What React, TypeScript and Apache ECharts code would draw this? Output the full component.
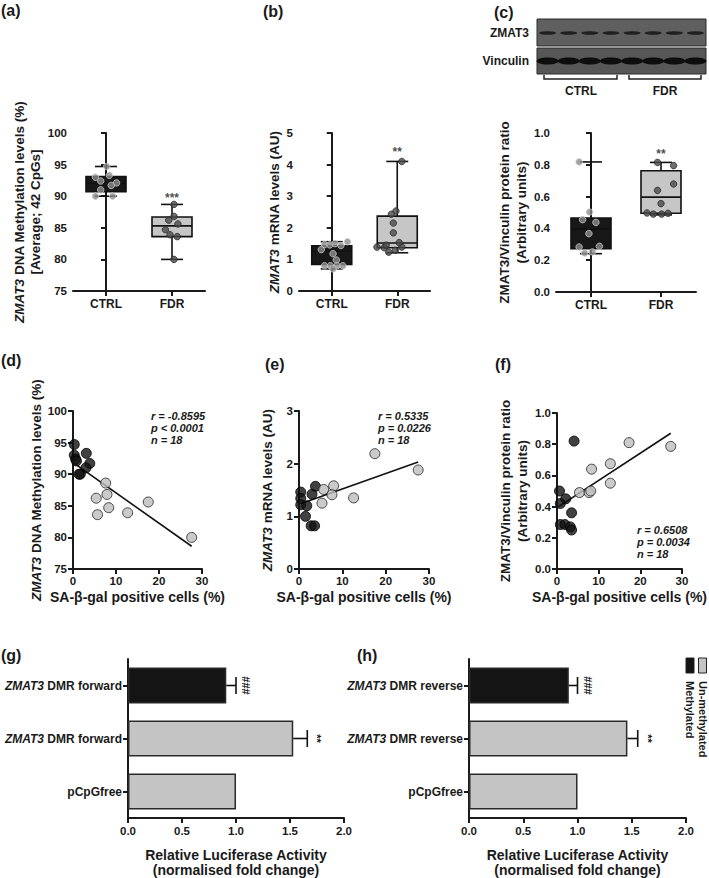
import React, { useEffect, useRef } from "react";
import * as echarts from "echarts";

const FONT = "'Liberation Sans', Arial, Helvetica, sans-serif";
const TXT = "#1a1a1a";

// ---------- DATA ----------
const groups = ["CTRL", "FDR"];

// (a) ZMAT3 DNA methylation, box stats [min, Q1, median, Q3, max]
const dnaMethBox = [
  [90.0, 90.7, 92.0, 93.1, 94.7],
  [80.0, 83.6, 85.3, 86.7, 88.7],
];
// dots: [jitter, value]
const dnaMethCtrlDots = [[0.01, 94.7], [0.05, 93.3], [-0.16, 93.0], [-0.08, 92.4], [0.16, 92.1], [0.08, 91.7], [-0.08, 91.0], [-0.16, 90.0], [0.1, 90.0]];
const dnaMethFdrDots = [[0.03, 88.7], [0.03, 86.8], [-0.05, 86.2], [0.09, 85.6], [-0.1, 84.7], [-0.03, 83.9], [0.08, 83.6], [0.03, 80.0]];
const dnaMethSig = [[1, 89.75, "***"]];

// (b) ZMAT3 mRNA
const mrnaBox = [
  [0.70, 0.84, 1.26, 1.43, 1.56],
  [1.21, 1.37, 1.52, 2.37, 4.10],
];
const mrnaCtrlDots = [[-0.16, 1.31], [-0.11, 1.47], [-0.03, 1.46], [0.05, 1.5], [0.14, 1.44], [0.24, 1.56], [0.02, 1.18], [0.07, 0.98], [-0.11, 0.8], [-0.02, 0.8], [0.08, 0.8], [0.17, 0.8], [0.02, 0.7]];
const mrnaFdrDots = [[0.07, 4.1], [-0.02, 2.53], [-0.09, 2.43], [-0.06, 2.15], [-0.06, 1.84], [-0.31, 1.39], [-0.2, 1.37], [-0.13, 1.23], [-0.03, 1.29], [0.07, 1.39], [0.03, 1.53], [-0.17, 1.45]];
const mrnaSig = [[1, 4.4, "**"]];

// (c) ZMAT3/Vinculin protein ratio
const protBox = [
  [0.241, 0.272, 0.396, 0.465, 0.818],
  [0.485, 0.495, 0.597, 0.763, 0.815],
];
const protCtrlDots = [[-0.17, 0.818], [-0.02, 0.503], [-0.12, 0.455], [0.07, 0.438], [-0.03, 0.367], [-0.17, 0.283], [0.12, 0.287], [-0.09, 0.245], [0.02, 0.252]];
const protFdrDots = [[-0.05, 0.815], [0.18, 0.795], [0.18, 0.679], [-0.05, 0.639], [0.0, 0.556], [-0.2, 0.497], [-0.11, 0.49], [0.01, 0.49], [0.1, 0.495]];
const protSig = [[1, 0.866, "**"]];

// (d) SA-β-gal vs DNA methylation
const senMethCtrl = [[0.3, 94.7], [3.1, 93.3], [0.3, 93.0], [0.6, 92.4], [0.8, 92.1], [3.9, 91.7], [3.0, 91.0], [1.7, 90.0], [1.4, 90.0]];
const senMethFdr = [[7.6, 88.6], [7.9, 86.8], [5.4, 86.2], [17.5, 85.6], [8.3, 84.7], [12.7, 83.9], [5.7, 83.6], [27.6, 80.0]];
const senMethFit = [[0.3, 91.7], [27.6, 78.6]];
const senMethStats = ["r = -0.8595", "p < 0.0001", "n = 18"];

// (e) SA-β-gal vs mRNA
const senMrnaCtrl = [[0.4, 1.46], [0.4, 1.34], [0.4, 1.22], [1.5, 1.0], [1.8, 1.2], [3.0, 1.42], [3.8, 1.57], [2.8, 0.82], [3.6, 0.82]];
const senMrnaFdr = [[5.7, 1.51], [5.3, 1.25], [8.0, 1.58], [7.6, 1.41], [12.6, 1.35], [17.5, 2.19], [27.5, 1.88]];
const senMrnaFit = [[0.4, 1.24], [27.5, 2.03]];
const senMrnaStats = ["r = 0.5335", "p = 0.0226", "n = 18"];

// (f) SA-β-gal vs protein
const senProtCtrl = [[0.6, 0.5], [0.8, 0.42], [2.1, 0.45], [3.5, 0.36], [4.1, 0.82], [0.8, 0.285], [1.9, 0.285], [3.2, 0.27], [3.5, 0.25]];
const senProtFdr = [[5.4, 0.49], [7.7, 0.49], [8.1, 0.5], [8.3, 0.64], [12.8, 0.675], [12.8, 0.55], [17.3, 0.81], [27.3, 0.786]];
const senProtFit = [[0.4, 0.4], [27.3, 0.87]];
const senProtStats = ["r = 0.6508", "p = 0.0034", "n = 18"];

// (g) luciferase, forward
const lucFwdLabels = ["ZMAT3 DMR forward", "ZMAT3 DMR forward", "pCpGfree"];
const lucFwdMean = [0.91, 1.53, 1.0];
const lucFwdErr = [0.09, 0.13, 0];
const lucFwdSig = ["###", "**", ""];

// (h) luciferase, reverse
const lucRevLabels = ["ZMAT3 DMR reverse", "ZMAT3 DMR reverse", "pCpGfree"];
const lucRevMean = [0.92, 1.46, 1.0];
const lucRevErr = [0.08, 0.095, 0];
const lucRevSig = ["###", "**", ""];

const legendLabels = ["Methylated", "Un-methylated"];

// ---------- STYLE HELPERS ----------
const axisLine = { show: true, lineStyle: { color: TXT, width: 2 } };
const axisTick = { show: true, inside: false, length: 5, lineStyle: { color: TXT, width: 2 } };
const tickLabel = (extra: any = {}) => ({ color: TXT, fontSize: 11.5, fontWeight: "bold", fontFamily: FONT, margin: 6, ...extra });
const italicRich = (size: number, lh?: number) => ({
  i: { fontStyle: "italic", fontWeight: "bold", fontSize: size, fontFamily: FONT, color: TXT, lineHeight: lh },
});
const nameStyle = (size: number, lh?: number) => ({
  color: TXT, fontSize: size, fontWeight: "bold", fontFamily: FONT, lineHeight: lh, rich: italicRich(size, lh),
});
const ital = (s: string) => s.replace("ZMAT3", "{i|ZMAT3}");

const renderBox = (fills: string[]) => (params: any, api: any) => {
  const i = api.value(0);
  const [pMin, pQ1, pMed, pQ3, pMax] = [1, 2, 3, 4, 5].map((k) => api.coord([i, api.value(k)]));
  const x = pMin[0];
  const bw = 40;
  const cw = 22;
  const st = { stroke: "#111", lineWidth: 1.6 };
  return {
    type: "group",
    children: [
      { type: "line", shape: { x1: x, y1: pMax[1], x2: x, y2: pMin[1] }, style: st },
      { type: "line", shape: { x1: x - cw / 2, y1: pMax[1], x2: x + cw / 2, y2: pMax[1] }, style: st },
      { type: "line", shape: { x1: x - cw / 2, y1: pMin[1], x2: x + cw / 2, y2: pMin[1] }, style: st },
      { type: "rect", shape: { x: x - bw / 2, y: pQ3[1], width: bw, height: pQ1[1] - pQ3[1] }, style: { fill: fills[i], stroke: "#111", lineWidth: 1.6 } },
      { type: "line", shape: { x1: x - bw / 2, y1: pMed[1], x2: x + bw / 2, y2: pMed[1] }, style: st },
    ],
  };
};

const renderErr = (sigs: string[]) => (params: any, api: any) => {
  const m = api.value(0);
  const i = api.value(1);
  const e = api.value(2);
  const p0 = api.coord([m, i]);
  const p1 = api.coord([m + e, i]);
  const st = { stroke: "#111", lineWidth: 1.6 };
  const children: any[] = [];
  if (e > 0) {
    children.push({ type: "line", shape: { x1: p0[0], y1: p0[1], x2: p1[0], y2: p1[1] }, style: st });
    children.push({ type: "line", shape: { x1: p1[0], y1: p1[1] - 8.5, x2: p1[0], y2: p1[1] + 8.5 }, style: st });
  }
  if (sigs[i]) {
    children.push({
      type: "text", x: p1[0] + 10, y: p1[1], rotation: -Math.PI / 2,
      style: { text: sigs[i], align: "center", verticalAlign: "middle", fontSize: 11, fontWeight: "bold", fontFamily: FONT, fill: TXT },
    });
  }
  return { type: "group", children };
};

function buildOption(): any {
  const boxFills = ["#181818", "#c6c6c6"];
  const grids = [
    { left: 73, top: 133, width: 132, height: 158 },
    { left: 299, top: 133, width: 131, height: 158 },
    { left: 556, top: 133, width: 140, height: 159 },
    { left: 73, top: 411, width: 129, height: 158 },
    { left: 299, top: 411, width: 130, height: 158 },
    { left: 557, top: 413, width: 130, height: 156 },
    { left: 128, top: 659, width: 216, height: 159 },
    { left: 469, top: 659, width: 217, height: 159 },
  ];

  const catX = (gridIndex: number) => ({
    type: "category", gridIndex, data: groups, boundaryGap: true, axisLine,
    axisTick: { ...axisTick, alignWithLabel: true },
    axisLabel: tickLabel({ fontSize: 12, margin: 7 }), splitLine: { show: false },
  });
  const jitX = (gridIndex: number) => ({ type: "value", gridIndex, min: -0.5, max: 1.5, show: false, splitLine: { show: false } });
  const senX = (gridIndex: number) => ({
    type: "value", gridIndex, min: 0, max: 30, interval: 10, axisLine, axisTick,
    axisLabel: tickLabel({ margin: 6 }), splitLine: { show: false },
    name: "SA-β-gal positive cells (%)", nameLocation: "middle", nameGap: 21, nameTextStyle: nameStyle(14),
  });
  const lucX = (gridIndex: number) => ({
    type: "value", gridIndex, min: 0, max: 2, interval: 0.5, axisLine, axisTick,
    axisLabel: tickLabel({ formatter: (v: number) => v.toFixed(1), margin: 7 }), splitLine: { show: false },
    name: "Relative Luciferase Activity\n(normalised fold change)", nameLocation: "middle", nameGap: 29, nameTextStyle: nameStyle(14, 15),
  });
  const valY = (gridIndex: number, min: number, max: number, interval: number, name: string, nameGap: number, dec: number, lh?: number) => ({
    type: "value", gridIndex, min, max, interval, axisLine, axisTick,
    axisLabel: tickLabel({ formatter: (v: number) => v.toFixed(dec) }), splitLine: { show: false },
    name, nameLocation: "middle", nameGap, nameRotate: 90, nameTextStyle: nameStyle(13.5, lh),
  });
  const lucY = (gridIndex: number, labels: string[]) => ({
    type: "category", gridIndex, inverse: true, data: labels.map((_, i) => String(i)),
    axisLine, axisTick: { ...axisTick, alignWithLabel: true },
    axisLabel: { ...tickLabel({ fontSize: 12, margin: 6 }), formatter: (v: string) => ital(labels[Number(v)]), rich: italicRich(12) },
    splitLine: { show: false },
  });

  const xAxis = [catX(0), jitX(0), catX(1), jitX(1), catX(2), jitX(2), senX(3), senX(4), senX(5), lucX(6), lucX(7)];
  const methName = "{i|ZMAT3} DNA Methylation levels (%)";
  const mrnaName = "{i|ZMAT3} mRNA levels (AU)";
  const protName = "ZMAT3/Vinculin protein ratio\n(Arbitrary units)";
  const yAxis = [
    valY(0, 75, 100, 5, methName + "\n[Average; 42 CpGs]", 23, 0, 16),
    valY(1, 0, 5, 1, mrnaName, 18, 0),
    valY(2, 0, 1, 0.2, protName, 25, 1, 17),
    valY(3, 75, 100, 5, methName, 23, 0),
    valY(4, 0, 3, 1, mrnaName, 25, 0),
    valY(5, 0, 1, 0.2, protName, 25, 1, 17),
    lucY(6, lucFwdLabels),
    lucY(7, lucRevLabels),
  ];

  const series: any[] = [];
  const boxPanel = (catIdx: number, jitIdx: number, yIdx: number, box: number[][], ctrl: number[][], fdr: number[][], sig: any[], ctrlDot: any, fdrDot: any) => {
    series.push({
      type: "custom", xAxisIndex: catIdx, yAxisIndex: yIdx, renderItem: renderBox(boxFills),
      data: box.map((b, i) => [i, ...b]), encode: { x: 0, y: [1, 2, 3, 4, 5] }, z: 2,
    });
    series.push({ type: "scatter", xAxisIndex: jitIdx, yAxisIndex: yIdx, data: ctrl.map(([j, v]) => [0 + j, v]), symbolSize: 6.5, itemStyle: ctrlDot, z: 3 });
    series.push({ type: "scatter", xAxisIndex: jitIdx, yAxisIndex: yIdx, data: fdr.map(([j, v]) => [1 + j, v]), symbolSize: 6.5, itemStyle: fdrDot, z: 3 });
    series.push({
      type: "scatter", xAxisIndex: catIdx, yAxisIndex: yIdx, data: sig.map((s) => [s[0], s[1]]), symbolSize: 1,
      itemStyle: { color: "rgba(0,0,0,0)" },
      label: { show: true, position: "inside", formatter: (p: any) => sig[p.dataIndex][2], fontSize: 12, fontWeight: "bold", fontFamily: FONT, color: TXT },
    });
  };
  const greyDot = { color: "#8c8c8c", borderColor: "#c9c9c9", borderWidth: 1 };
  const darkDot = { color: "#4a4a4a", borderColor: "#2c2c2c", borderWidth: 1 };
  boxPanel(0, 1, 0, dnaMethBox, dnaMethCtrlDots, dnaMethFdrDots, dnaMethSig, greyDot, darkDot);
  boxPanel(2, 3, 1, mrnaBox, mrnaCtrlDots, mrnaFdrDots, mrnaSig, greyDot, darkDot);
  boxPanel(4, 5, 2, protBox, protCtrlDots, protFdrDots, protSig, greyDot, darkDot);

  const senPanel = (xIdx: number, yIdx: number, ctrl: number[][], fdr: number[][], fit: number[][]) => {
    series.push({ type: "line", xAxisIndex: xIdx, yAxisIndex: yIdx, data: fit, symbol: "none", lineStyle: { color: "#111", width: 1.6 }, z: 2 });
    series.push({ type: "scatter", xAxisIndex: xIdx, yAxisIndex: yIdx, data: ctrl, symbolSize: 10, itemStyle: { color: "#111", borderColor: "#000", borderWidth: 1 }, z: 3 });
    series.push({ type: "scatter", xAxisIndex: xIdx, yAxisIndex: yIdx, data: fdr, symbolSize: 10, itemStyle: { color: "#bdbdbd", borderColor: "#222", borderWidth: 1 }, z: 3 });
  };
  senPanel(6, 3, senMethCtrl, senMethFdr, senMethFit);
  senPanel(7, 4, senMrnaCtrl, senMrnaFdr, senMrnaFit);
  senPanel(8, 5, senProtCtrl, senProtFdr, senProtFit);

  const barFills = ["#141414", "#c4c4c4", "#c4c4c4"];
  const lucPanel = (xIdx: number, yIdx: number, mean: number[], err: number[], sig: string[]) => {
    series.push({
      type: "bar", xAxisIndex: xIdx, yAxisIndex: yIdx, barWidth: 36,
      data: mean.map((v, i) => ({ value: v, itemStyle: { color: barFills[i], borderColor: "#2a2a2a", borderWidth: 1.5 } })),
      z: 2,
    });
    series.push({
      type: "custom", xAxisIndex: xIdx, yAxisIndex: yIdx, renderItem: renderErr(sig),
      data: mean.map((v, i) => [v, i, err[i]]), encode: { x: 0, y: 1 }, z: 3,
    });
  };
  lucPanel(9, 6, lucFwdMean, lucFwdErr, lucFwdSig);
  lucPanel(10, 7, lucRevMean, lucRevErr, lucRevSig);

  // ---------- GRAPHIC ----------
  const letter = (t: string, x: number, y: number) => ({
    type: "text", x, y, style: { text: t, fontSize: 16, fontWeight: "bold", fontFamily: FONT, fill: TXT, verticalAlign: "top" },
  });
  const stats = (lines: string[], x: number, y: number) => ({
    type: "text", x, y, style: { text: lines.join("\n"), fontSize: 11, fontWeight: "bold", fontStyle: "italic", fontFamily: FONT, fill: TXT, lineHeight: 12, verticalAlign: "top" },
  });
  const blotX = 537, blotW = 169;
  const lanes = Array.from({ length: 8 }, (_, k) => blotX + (blotW * (k + 0.5)) / 8);
  const blot: any[] = [
    { type: "rect", shape: { x: blotX, y: 19, width: blotW, height: 27 }, style: { fill: "#5f5f5f", stroke: "#2a2a2a", lineWidth: 1 } },
    { type: "rect", shape: { x: blotX, y: 48, width: blotW, height: 26 }, style: { fill: "#575757", stroke: "#2a2a2a", lineWidth: 1 } },
    ...lanes.map((cx) => ({ type: "ellipse", shape: { cx, cy: 33, rx: 8.5, ry: 1.8 }, style: { fill: "#202020" } })),
    ...lanes.map((cx) => ({ type: "ellipse", shape: { cx, cy: 61, rx: 11, ry: 3.6 }, style: { fill: "#0e0e0e" } })),
    { type: "text", x: 529, y: 33, style: { text: "ZMAT3", align: "right", verticalAlign: "middle", fontSize: 12, fontWeight: "bold", fontFamily: FONT, fill: TXT } },
    { type: "text", x: 529, y: 61, style: { text: "Vinculin", align: "right", verticalAlign: "middle", fontSize: 12, fontWeight: "bold", fontFamily: FONT, fill: TXT } },
    { type: "polyline", shape: { points: [[544, 75], [544, 79], [617, 79], [617, 75]] }, style: { stroke: "#222", lineWidth: 1.5, fill: "none" } },
    { type: "polyline", shape: { points: [[629, 75], [629, 79], [701, 79], [701, 75]] }, style: { stroke: "#222", lineWidth: 1.5, fill: "none" } },
    { type: "text", x: 581, y: 91, style: { text: groups[0], align: "center", verticalAlign: "middle", fontSize: 12, fontWeight: "bold", fontFamily: FONT, fill: TXT } },
    { type: "text", x: 665, y: 91, style: { text: groups[1], align: "center", verticalAlign: "middle", fontSize: 12, fontWeight: "bold", fontFamily: FONT, fill: TXT } },
  ];
  const legend: any[] = [
    { type: "rect", shape: { x: 686, y: 658, width: 8, height: 15 }, style: { fill: barFills[0], stroke: "#222", lineWidth: 1 } },
    { type: "rect", shape: { x: 698.5, y: 658, width: 8, height: 15 }, style: { fill: barFills[1], stroke: "#222", lineWidth: 1 } },
    { type: "text", x: 690, y: 681, rotation: -Math.PI / 2, style: { text: legendLabels[0], align: "left", verticalAlign: "middle", fontSize: 11, fontWeight: "bold", fontFamily: FONT, fill: TXT } },
    { type: "text", x: 702.5, y: 681, rotation: -Math.PI / 2, style: { text: legendLabels[1], align: "left", verticalAlign: "middle", fontSize: 11, fontWeight: "bold", fontFamily: FONT, fill: TXT } },
  ];

  const graphic = [
    letter("(a)", 1, 2), letter("(b)", 263, 3), letter("(c)", 494, 4),
    letter("(d)", 1, 352), letter("(e)", 265, 356), letter("(f)", 495, 356),
    letter("(g)", 1, 647), letter("(h)", 357, 647),
    stats(senMethStats, 151, 410), stats(senMrnaStats, 378, 410), stats(senProtStats, 637, 524),
    ...blot, ...legend,
  ];

  return { animation: false, backgroundColor: "#fff", grid: grids, xAxis, yAxis, series, graphic };
}

export default function App() {
  const ref = useRef<HTMLDivElement>(null);
  useEffect(() => {
    const el = ref.current;
    if (!el) return;
    const chart = echarts.init(el, undefined, { renderer: "svg" });
    chart.setOption(buildOption());
    return () => chart.dispose();
  }, []);
  return <div ref={ref} style={{ position: "absolute", left: 0, top: 0, width: 709, height: 878, background: "#fff" }} />;
}
